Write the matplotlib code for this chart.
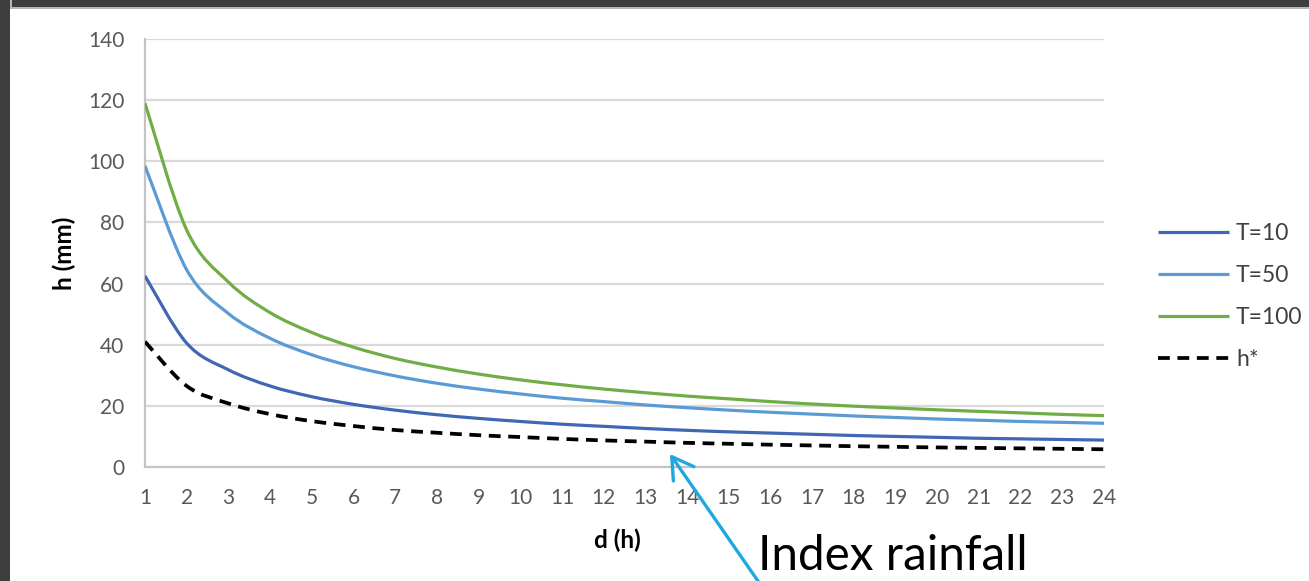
import matplotlib
matplotlib.use("Agg")
import matplotlib.pyplot as plt
import numpy as np
from matplotlib.patches import Rectangle, PathPatch
from matplotlib.path import Path
from matplotlib.lines import Line2D

plt.rcParams['font.family'] = ['Lato', 'DejaVu Sans']
plt.rcParams['lines.scale_dashes'] = False

# ---- data ----
durations = list(range(1, 25))
t10 = [62.5, 40.5, 31.8, 26.5, 23.0, 20.5, 18.6, 17.1, 15.9, 14.9, 14.0, 13.3,
       12.6, 12.0, 11.5, 11.1, 10.7, 10.3, 10.0, 9.7, 9.4, 9.2, 9.0, 8.8]
t50 = [98.5, 64.5, 50.2, 42.1, 36.7, 32.8, 29.8, 27.4, 25.5, 23.9, 22.5, 21.4,
       20.3, 19.4, 18.6, 17.9, 17.3, 16.7, 16.2, 15.7, 15.3, 14.9, 14.6, 14.3]
t100 = [119.0, 77.5, 60.5, 50.5, 44.0, 39.2, 35.5, 32.7, 30.4, 28.5, 26.9, 25.5,
        24.3, 23.2, 22.3, 21.4, 20.6, 19.9, 19.3, 18.7, 18.2, 17.7, 17.2, 16.8]
hstar = [41.0, 26.5, 20.8, 17.3, 15.0, 13.4, 12.1, 11.2, 10.4, 9.8, 9.2, 8.7,
         8.3, 7.9, 7.6, 7.3, 7.05, 6.8, 6.6, 6.4, 6.25, 6.1, 5.95, 5.8]
series_labels = ["T=10", "T=50", "T=100", "h*"]
y_ticks = [0, 20, 40, 60, 80, 100, 120, 140]

W, H = 1309, 581
fig = plt.figure(figsize=(W / 100, H / 100), dpi=100)
fig.patch.set_facecolor('white')

# screenshot frame (dark band top/left with light inner line)
fig.patches.append(Rectangle((0, 1 - 7 / H), 1, 7 / H, transform=fig.transFigure,
                             facecolor='#3e3e3e', edgecolor='none', zorder=0))
fig.patches.append(Rectangle((0, 0), 10 / W, 1, transform=fig.transFigure,
                             facecolor='#3e3e3e', edgecolor='none', zorder=0))
fig.patches.append(Rectangle((10 / W, 1 - 9 / H), 2 / W, 1, transform=fig.transFigure,
                             facecolor='#b8b8b8', edgecolor='none', zorder=0))
fig.patches.append(Rectangle((10 / W, 1 - 9 / H), 1, 2 / H, transform=fig.transFigure,
                             facecolor='#b8b8b8', edgecolor='none', zorder=0))

ax = fig.add_axes([145 / W, 114 / H, 959 / W, 428 / H])
ax.set_xlim(1, 24)
ax.set_ylim(0, 140)


def smooth_path(xs, ys):
    """Excel-style smoothed line: Bezier segments through the data points."""
    p = np.column_stack([xs, ys]).astype(float)
    n = len(p)
    verts = [p[0]]
    codes = [Path.MOVETO]
    for i in range(n - 1):
        p0 = p[i - 1] if i > 0 else p[i]
        p1, p2 = p[i], p[i + 1]
        p3 = p[i + 2] if i + 2 < n else p[i + 1]
        c1 = p1 + (p2 - p0) / 6.0
        c2 = p2 - (p3 - p1) / 6.0
        verts += [c1, c2, p2]
        codes += [Path.CURVE4] * 3
    return Path(verts, codes)


lw = 2.3
styles = [
    (t10, dict(color='#4166b3', lw=lw, ls='-')),
    (t50, dict(color='#5b9bd5', lw=lw, ls='-')),
    (t100, dict(color='#70ad47', lw=lw, ls='-')),
    (hstar, dict(color='black', lw=lw + 0.4, ls=(0, (8.5, 5.5)))),
]
handles = []
for (vals, st), lab in zip(styles, series_labels):
    patch = PathPatch(smooth_path(durations, vals), fill=False, edgecolor=st['color'],
                      lw=st['lw'], linestyle=st['ls'], capstyle='butt', zorder=3)
    ax.add_patch(patch)
    handles.append(Line2D([], [], color=st['color'], lw=st['lw'], linestyle=st['ls'],
                          dash_capstyle='butt', solid_capstyle='butt', label=lab))

ax.set_xticks(durations)
ax.set_xticklabels([str(d) for d in durations])
ax.set_yticks(y_ticks)
ax.set_yticklabels([str(v) for v in y_ticks])
ax.tick_params(axis='both', length=0, labelsize=15, labelcolor='#595959')
ax.tick_params(axis='y', pad=15)
ax.tick_params(axis='x', pad=15)

ax.grid(axis='y', color='#d9d9d9', lw=1.6)
ax.set_axisbelow(True)
for s in ['top', 'right']:
    ax.spines[s].set_visible(False)
for s in ['left', 'bottom']:
    ax.spines[s].set_color('#c4c4c4')
    ax.spines[s].set_linewidth(1.6)

fig.text(64 / W, 1 - 253 / H, 'h (mm)', rotation=90, ha='center', va='center',
         fontsize=17.5, fontweight='bold', color='black')
fig.text(617 / W, 1 - 540 / H, 'd (h)', ha='center', va='center',
         fontsize=17.5, fontweight='bold', color='black')

leg = fig.legend(handles=handles, loc='center left',
                 bbox_to_anchor=(1158 / W, 1 - 296.5 / H),
                 frameon=False, fontsize=16.5, handlelength=3.1, handletextpad=0.3,
                 labelspacing=0.92, borderpad=0, borderaxespad=0)
for t in leg.get_texts():
    t.set_color('#404040')

# annotation arrow + text
ax.annotate('', xy=(13.59, 4.25), xycoords='data',
            xytext=(785 / W, -39 / H), textcoords='figure fraction',
            annotation_clip=False,
            arrowprops=dict(arrowstyle='->,head_length=0.75,head_width=0.45',
                        color='#1fa8df', lw=2.4, shrinkA=0, shrinkB=0,
                        mutation_scale=20))
fig.text(758 / W, 1 - 570 / H, 'Index rainfall', ha='left', va='baseline',
         fontsize=34.3, color='black')

fig.savefig('out.png', dpi=100)
